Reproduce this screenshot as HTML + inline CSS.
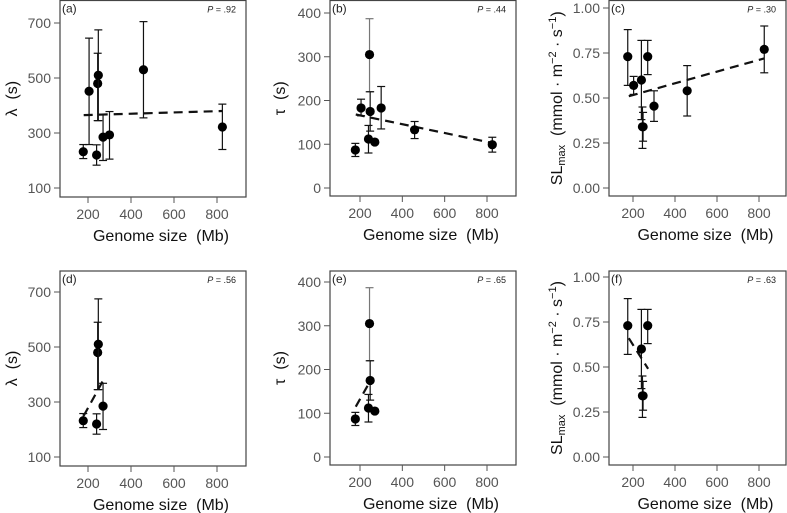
<!DOCTYPE html>
<html><head><meta charset="utf-8"><style>
body{margin:0;background:#fff}
svg{display:block;font-family:"Liberation Sans",Arial,sans-serif}
</style></head><body>
<svg id="fig" width="787" height="513" viewBox="0 0 787 513" xmlns="http://www.w3.org/2000/svg"></svg>
<script>
// ---- data ----
const genomeA = [178,205,240,245,248,270,300,458,825];
const lambdaA = [232,452,220,480,510,285,293,530,322];
const lambdaLo = [207,258,183,345,345,200,205,355,240];
const lambdaHi = [258,645,257,590,675,368,378,705,405];
const lambdaTrend = [[180,365],[825,380]];

const tauA = [87,183,112,305,175,105,183,133,99];
const tauLo = [72,165,80,220,130,105,135,113,82];
const tauHi = [102,203,143,387,220,105,232,152,116];
const tauTrend = [[180,168],[825,103]];

const genomeC = [175,203,240,245,248,270,300,458,825];
const slA = [0.73,0.57,0.60,0.34,0.34,0.73,0.455,0.54,0.77];
const slLo = [0.57,0.52,0.38,0.22,0.26,0.63,0.37,0.40,0.64];
const slHi = [0.88,0.62,0.82,0.45,0.42,0.82,0.54,0.68,0.90];
const slTrend = [[180,0.51],[825,0.72]];

const subsetIdx = [0,2,3,4,5];
const lambdaTrendD = [[180,250],[275,385]];
const tauTrendE = [[180,115],[258,182]];
const slTrendF = [[180,0.66],[272,0.49]];

const xTicks = [200,400,600,800];
const lambdaTicks = [100,300,500,700];
const tauTicks = [0,100,200,300,400];
const slTicks = [0,0.25,0.5,0.75,1];
const slTickLabels = ["0.00","0.25","0.50","0.75","1.00"];
const pValues = [".92",".44",".30",".56",".65",".63"];
const panelLabels = ["(a)","(b)","(c)","(d)","(e)","(f)"];

const NS="http://www.w3.org/2000/svg";
const svg=document.getElementById('fig');
function mk(tag,attrs,parent){const e=document.createElementNS(NS,tag);for(const k in attrs)e.setAttribute(k,attrs[k]);(parent||svg).appendChild(e);return e;}

function panel(i,cfg){
  const dy = i>=3 ? 269 : 0;
  const g=mk('g',{});
  
  
  const L=cfg.L,R=cfg.R,T=(i>=3?271:0.5),B=cfg.B+dy;
  const sx=v=>cfg.x200+(v-200)*(cfg.x800-cfg.x200)/600;
  const sy=v=>cfg.yBotPx+dy+(v-cfg.yBot)*(cfg.yTopPx-cfg.yBotPx)/(cfg.yTop-cfg.yBot);
  const box=mk('rect',{x:L,y:T,width:R-L,height:B-T,fill:'none',stroke:'#444','stroke-width':1.2},g);
  
  
  xTicks.forEach(t=>{
    mk('line',{x1:sx(t),x2:sx(t),y1:B,y2:B+6,stroke:'#555'},g);
    const tx=mk('text',{x:sx(t),y:B+22,'font-size':14,fill:'#555','text-anchor':'middle'},g);
    tx.textContent=t;
    
    
  });
  cfg.ticks.forEach((t,k)=>{
    mk('line',{x1:L-6,x2:L,y1:sy(t),y2:sy(t),stroke:'#555'},g);
    const tx=mk('text',{x:L-9,y:sy(t)+5,'font-size':14,fill:'#555','text-anchor':'end'},g);
    tx.textContent=cfg.labels?cfg.labels[k]:t;
    
    
  });
  const xt=mk('text',{x:(L+R)/2+8,y:B+44,'font-size':16,fill:'#111','text-anchor':'middle'},g);
  xt.textContent='Genome size\u00a0\u00a0(Mb)';
  
  
  const yt=mk('text',{transform:`translate(${cfg.ytx},${(T+B)/2}) rotate(-90)`,'font-size':16,fill:'#111','text-anchor':'middle'},g);
  yt.innerHTML=cfg.ytitle;
  
  
  const pl=mk('text',{x:L+2,y:T+12,'font-size':12,fill:'#222'},g);
  pl.textContent=panelLabels[i];
  
  
  const pv=mk('text',{x:R-10,y:T+12,'font-size':9,fill:'#222','text-anchor':'end'},g);
  pv.innerHTML='<tspan font-style="italic">P</tspan> = '+pValues[i];
  
  
  const tl=mk('line',{x1:sx(cfg.trend[0][0]),y1:sy(cfg.trend[0][1]),x2:sx(cfg.trend[1][0]),y2:sy(cfg.trend[1][1]),stroke:'#111','stroke-width':2.2,'stroke-dasharray':'9,6'},g);
  
  
  cfg.idx.forEach(j=>{
    const x=sx(cfg.xs[j]);
    const col=(cfg.gray===j)?'#777':'#111';
    const eb=mk('g',{stroke:col,'stroke-width':1.2},g);
    
    
    mk('line',{x1:x,x2:x,y1:sy(cfg.lo[j]),y2:sy(cfg.hi[j])},eb);
    mk('line',{x1:x-4,x2:x+4,y1:sy(cfg.lo[j]),y2:sy(cfg.lo[j])},eb);
    mk('line',{x1:x-4,x2:x+4,y1:sy(cfg.hi[j]),y2:sy(cfg.hi[j])},eb);
    const c=mk('circle',{cx:x,cy:sy(cfg.ys[j]),r:4.6,fill:'#000'},g);
    
    
  });
}
const all=[0,1,2,3,4,5,6,7,8];
const slTitle='SL<tspan font-size="11" dy="3">max</tspan><tspan dy="-3">\u00a0\u00a0(mmol · m</tspan><tspan font-size="11" dy="-6">−2</tspan><tspan dy="6"> · s</tspan><tspan font-size="11" dy="-6">−1</tspan><tspan dy="6">)</tspan>';
const A={L:60,R:246,B:197,x200:88,x800:217,yTop:700,yTopPx:23,yBot:100,yBotPx:188,ticks:lambdaTicks,ytx:17,ytitle:'λ\u00a0\u00a0(s)',xs:genomeA,ys:lambdaA,lo:lambdaLo,hi:lambdaHi};
const Bc={L:330,R:516,B:196,x200:360,x800:487,yTop:400,yTopPx:13,yBot:0,yBotPx:188,ticks:tauTicks,ytx:285,ytitle:'τ\u00a0\u00a0(s)',xs:genomeA,ys:tauA,lo:tauLo,hi:tauHi,gray:3};
const C={L:609,R:786,B:196,x200:633,x800:759,yTop:1,yTopPx:8,yBot:0,yBotPx:188,ticks:slTicks,labels:slTickLabels,ytx:562,ytitle:slTitle,xs:genomeC,ys:slA,lo:slLo,hi:slHi};
panel(0,Object.assign({},A,{trend:lambdaTrend,idx:all}));
panel(1,Object.assign({},Bc,{trend:tauTrend,idx:all}));
panel(2,Object.assign({},C,{trend:slTrend,idx:all}));
panel(3,Object.assign({},A,{trend:lambdaTrendD,idx:subsetIdx}));
panel(4,Object.assign({},Bc,{trend:tauTrendE,idx:subsetIdx}));
panel(5,Object.assign({},C,{trend:slTrendF,idx:subsetIdx}));
</script>
</body></html>
